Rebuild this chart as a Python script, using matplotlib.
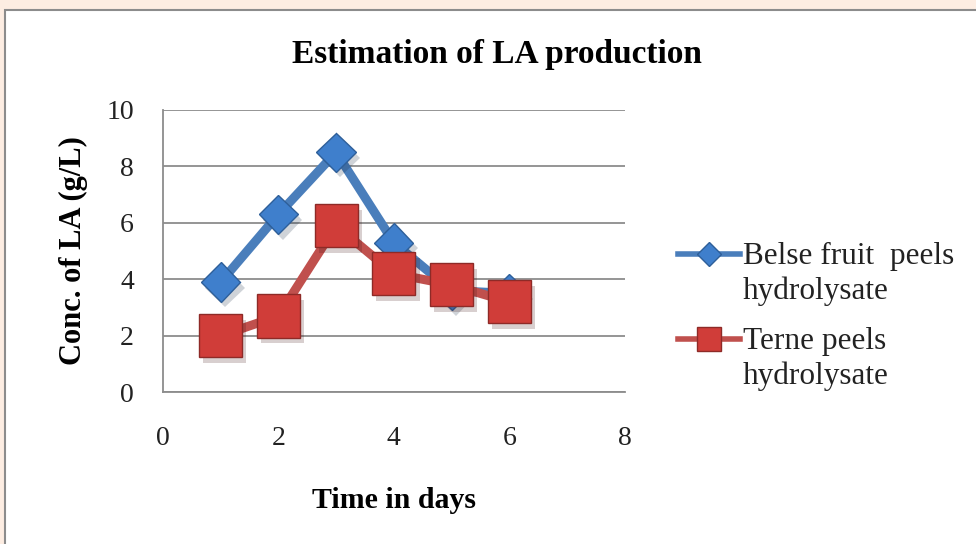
import matplotlib.pyplot as plt
import matplotlib.patheffects as pe
from matplotlib.patches import Rectangle
from matplotlib.lines import Line2D

days = [1, 2, 3, 4, 5, 6]
belse = [3.9, 6.3, 8.5, 5.3, 3.6, 3.5]
terne = [2.0, 2.7, 5.9, 4.2, 3.8, 3.2]
labels = ["Belse fruit  peels\nhydrolysate", "Terne peels\nhydrolysate"]

plt.rcParams["font.family"] = ["Liberation Serif", "DejaVu Serif"]

W, H = 976, 544
fig = plt.figure(figsize=(W / 100, H / 100), dpi=100, facecolor="#fdede2")

# white chart area with grey border
fig.patches.append(Rectangle((0.005, -0.05), 1.1, 1.032, transform=fig.transFigure,
                             facecolor="white", edgecolor="#8c8c8c", linewidth=1.5,
                             zorder=-5))

ax = fig.add_axes([0.167, 0.279, 0.473, 0.519])
ax.set_facecolor("none")

shadow = [pe.SimplePatchShadow(offset=(3, -4), alpha=0.2), pe.Normal()]

blue_line, blue_face, blue_edge = "#4a7ebb", "#3f7fcc", "#2e5f99"
red_line, red_face, red_edge = "#c0504d", "#d03d39", "#8e2a27"

ax.plot(days, belse, color=blue_line, linewidth=6.5, zorder=3)
ax.plot(days, belse, linestyle="none", marker="D", markersize=20,
        markerfacecolor=blue_face, markeredgecolor=blue_edge, markeredgewidth=1,
        zorder=3.5, path_effects=shadow)
ax.plot(days, terne, color=red_line, linewidth=6.5, zorder=4)
ax.plot(days, terne, linestyle="none", marker="s", markersize=31,
        markerfacecolor=red_face, markeredgecolor=red_edge, markeredgewidth=1,
        zorder=4.5, path_effects=shadow)

ax.set_xlim(0, 8)
ax.set_ylim(0, 10)
ax.set_xticks(range(0, 9, 2))
ax.set_yticks(range(0, 11, 2))
ax.tick_params(length=0, labelsize=20, colors="#222222", pad=21)
ax.tick_params(axis="x", pad=24)
ax.grid(axis="y", color="#8c8c8c", linewidth=1.3)
ax.set_axisbelow(True)
for s in ["top", "right"]:
    ax.spines[s].set_visible(False)
for s in ["left", "bottom"]:
    ax.spines[s].set_color("#8c8c8c")
    ax.spines[s].set_linewidth(1.3)

fig.text(0.509, 0.899, "Estimation of LA production", ha="center", va="center",
         fontsize=24, fontweight="bold")
ax.set_xlabel("Time in days", fontsize=21.5, fontweight="bold", labelpad=26)
ax.set_ylabel("Conc. of LA (g/L)", fontsize=22, fontweight="bold", labelpad=13)

# legend drawn by hand: the handle sits on the first line of each label
colors = [(blue_line, blue_face, blue_edge), (red_line, red_face, red_edge)]
markers = [("D", 12), ("s", 17)]
for i, label in enumerate(labels):
    line_c, face_c, edge_c = colors[i]
    mk, ms = markers[i]
    y0 = 1 - (254 + i * 85) / H
    fig.add_artist(Line2D([678 / W, 740 / W], [y0, y0], transform=fig.transFigure,
                          color=line_c, linewidth=4))
    fig.add_artist(Line2D([709 / W], [y0], transform=fig.transFigure, linestyle="none",
                          marker=mk, markersize=ms, markerfacecolor=face_c,
                          markeredgecolor=edge_c))
    for j, text in enumerate(label.split("\n")):
        fig.text(743 / W, y0 - (2 + j * 35) / H, text, ha="left", va="center",
                 fontsize=22.5, color="#222222")

plt.savefig("out.png", dpi=100, facecolor=fig.get_facecolor())
